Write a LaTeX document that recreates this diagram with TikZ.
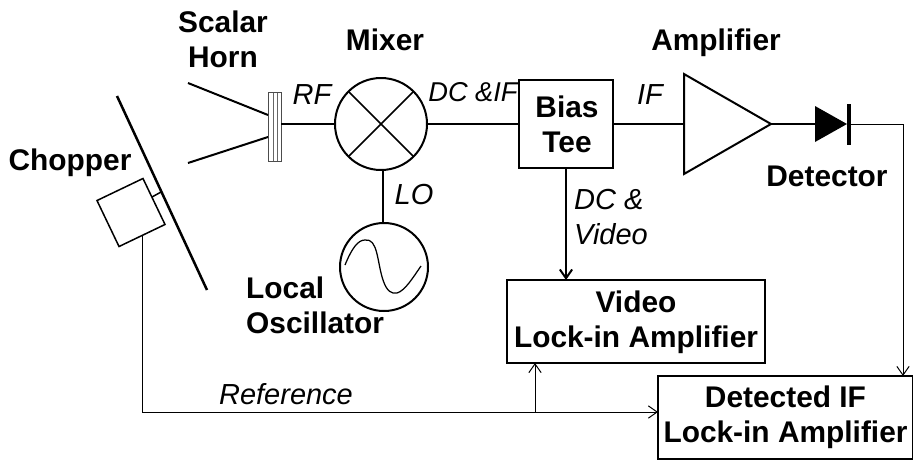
\documentclass[tikz,border=0pt]{standalone}
\usepackage{fontspec}
\setmainfont{Liberation Sans}
\usepackage{tikz}
\usetikzlibrary{arrows.meta}
\usetikzlibrary{shapes.geometric,positioning}
\tikzset{
  thickline/.style={line width=0.4mm},
  thinline/.style={line width=0.2mm},
  signal/.style={thinline, -{Straight Barb[length=5pt,width=7pt]}},
  block/.style={draw=black, thickline, inner sep=0mm, outer sep=0mm, align=center},
  title/.style={align=center, font=\fontsize{17}{20}\selectfont\bfseries},
  signame/.style={align=left, font=\fontsize{16.5}{20}\selectfont\itshape},
}

\begin{document}
\begin{tikzpicture}[x=0.2mm, y=-0.2mm]
        \useasboundingbox (0,0) rectangle (913,462);

        % Horn, chopper wheel and motor
        \node[draw=black!70, thinline, minimum width=2.6mm, minimum height=13.8mm, inner sep=0mm, outer sep=0mm] at (274.5,126.5) (plate) {};
        \coordinate (plate_up) at (268,115);
        \coordinate (plate_low) at (268,137);
        \coordinate (horn_up) at (188,83);
        \coordinate (horn_low) at (188,163);
        \coordinate (plate_l) at (273,92.5);
        \coordinate (plate_r) at (277,92.5);
        \coordinate (wheel_top) at (117,96);
        \coordinate (wheel_bot) at (207,290);
        \coordinate (wheel_hub) at (161,192);
        \coordinate (motor_top) at (152,197);
        \draw[thinline, draw=black!60] (plate_l) -- (plate_l |- plate.south);
        \draw[thinline, draw=black!60] (plate_r) -- (plate_r |- plate.south);
        \draw[thickline] (horn_up) -- (plate_up);
        \draw[thickline] (horn_low) -- (plate_low);
        \draw[line width=0.5mm] (wheel_top) -- (wheel_bot);
        \node[block, line width=0.3mm, rotate=25.6, minimum size=10.2mm] at (131,212.5) (chopper) {};
        \draw[line width=0.3mm] (motor_top) -- (wheel_hub);

        % Mixer and local oscillator
        \node[block, shape=circle, minimum size=18.4mm] at (381,124) (mixer) {};
        \draw[line width=0.3mm] (mixer.45) -- (mixer.225);
        \draw[line width=0.3mm] (mixer.135) -- (mixer.315);
        \node[block, shape=circle, minimum size=17.6mm] at (384,267) (osc) {};
        \coordinate (sine_a) at (345,265);
        \coordinate (sine_b) at (421,266);
        \draw[line width=0.25mm] (sine_a) .. controls (352,248) and (358,240) .. (365,240)
                .. controls (378,238) and (377,262) .. (383,280)
                .. controls (387,292) and (392,294) .. (397,293)
                .. controls (405,291) and (414,276) .. (sine_b);

        % Bias tee and amplifier
        \node[block, minimum width=18.8mm, minimum height=17.6mm] at (566,124) (biastee) {};
        \node[block, shape=isosceles triangle, isosceles triangle apex angle=60, isosceles triangle stretches, minimum width=20mm, minimum height=17.4mm, anchor=apex] at (771,124) (amp) {};

        % Detector diode
        \node[fill=black, shape=isosceles triangle, isosceles triangle apex angle=60, isosceles triangle stretches, minimum width=7.2mm, minimum height=6.4mm, inner sep=0mm, outer sep=0mm, anchor=apex] at (847,124) (diode) {};
        \node[fill=black, minimum width=0.8mm, minimum height=8.2mm, inner sep=0mm, outer sep=0mm] at (849,124.5) (diode_bar) {};

        % Lock-ins
        \node[block, minimum width=51.6mm, minimum height=16.6mm] at (636,321.5) (video) {};
        \node[block, minimum width=51mm, minimum height=16.6mm] at (785.5,417.5) (detected) {};

        % RF chain
        \draw[thickline] (mixer.west -| plate.east) -- (mixer.west);
        \draw[thickline] (mixer.east) -- (biastee.west);
        \draw[thickline] (biastee.east) -- (amp.west);
        \draw[thickline] (amp.apex) -- (diode.west);
        \coordinate (mixer_lo) at (383,170);
        \draw[thickline] (mixer_lo) -- (mixer_lo |- osc.north);

        % Detected signal
        \coordinate (detected_in) at (903,376);
        \draw[signal] (diode_bar.east |- diode.apex) -| (detected_in);
        % DC and video
        \draw[signal, thickline] (biastee.south) -- (biastee.south |- video.north);
        % Reference from chopper
        \coordinate (ref_in) at (658,412);
        \coordinate (ref_split) at (535,412);
        \draw[signal] (chopper.south) |- (ref_in);
        \draw[signal] (ref_split) -- (ref_split |- video.south);

        % Labels
        \node[title] at (223,39.5) (horn_label) {Scalar\\Horn};
        \node[title] at (385,40) (mixer_label) {Mixer};
        \node[title] at (70,163) (chopper_label) {Chopper};
        \node[title] at (716,43) (amp_label) {Amplifier};
        \node[title] at (827,176) (detector_label) {Detector};
        \node[title, align=left, anchor=west] at (240,305) (osc_label) {Local\\Oscillator};
        \node[title] at (567,124) (biastee_label) {Bias\\Tee};
        \node[title] at (636,322) (video_label) {Video\\Lock-in Amplifier};
        \node[title] at (785.5,417) (detected_label) {Detected IF\\Lock-in Amplifier};

        \node[signame] at (312,95) (rf_label) {RF};
        \node[signame, font=\fontsize{15.5}{20}\selectfont\itshape] at (473,92) (dcif_label) {DC \&IF};
        \node[signame] at (414,195) (lo_label) {LO};
        \node[signame] at (650,95) (if_label) {IF};
        \node[signame, anchor=west] at (568,217) (dcvideo_label) {DC \&\\Video};
        \node[signame] at (286,394) (ref_label) {Reference};
    \end{tikzpicture}
\end{document}
